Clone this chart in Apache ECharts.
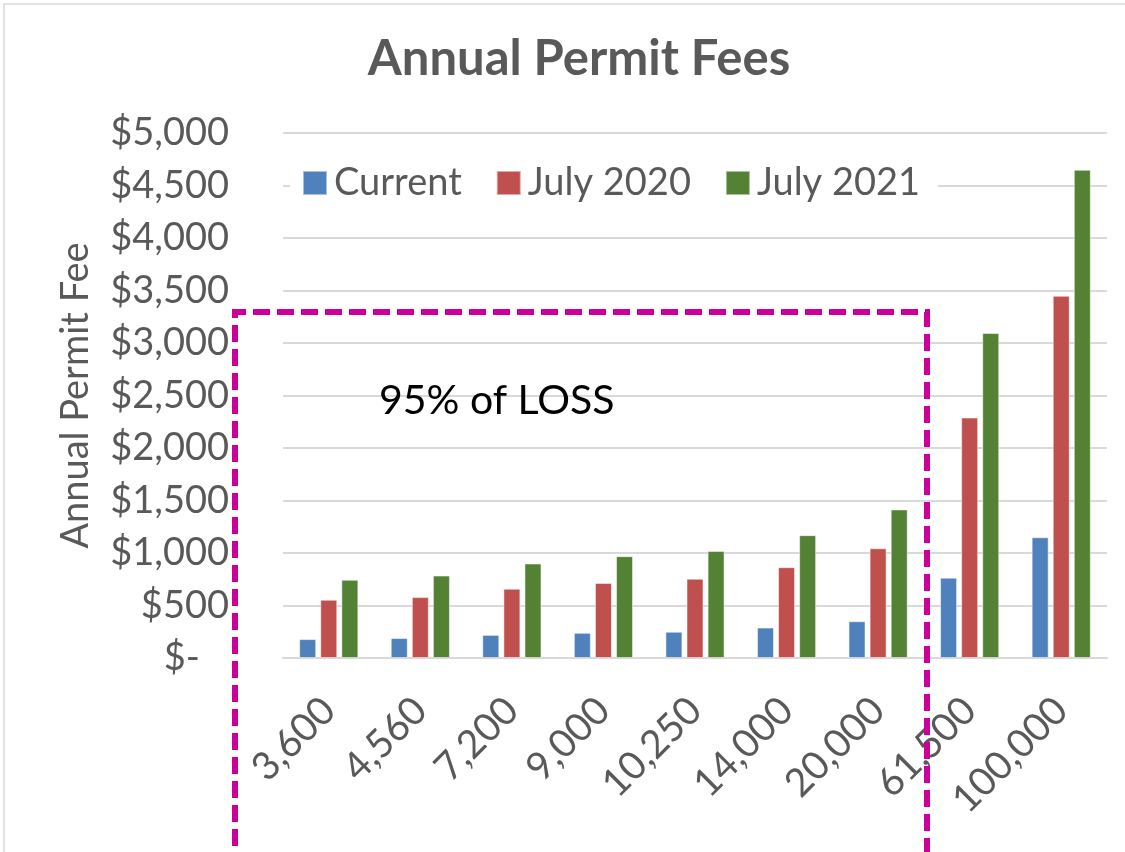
<!DOCTYPE html>
<html>
<head>
<meta charset="utf-8">
<script src="https://cdn.jsdelivr.net/npm/echarts@6/dist/echarts.min.js"></script>
<style>html,body{margin:0;padding:0;background:#fff}#c{width:1125px;height:852px}</style>
</head>
<body>
<div id="c"></div>
<script>
const categories = ['3,600','4,560','7,200','9,000','10,250','14,000','20,000','61,500','100,000'];
const seriesNames = ['Current','July 2020','July 2021'];
const current = [180, 190, 220, 240, 250, 290, 350, 765, 1150];
const july2020 = [555, 580, 660, 715, 755, 865, 1045, 2290, 3450];
const july2021 = [745, 785, 900, 970, 1020, 1170, 1415, 3095, 4650];
const colors = ['#4F81BD','#C0504D','#548235'];
const FONT = 'Lato';
const TXT = '#595959';

const chart = echarts.init(document.getElementById('c'));
const mk = (name, data, color) => ({
  name, type: 'bar', data, barWidth: 17, barGap: '24%',
  itemStyle: { color, borderColor: 'rgba(255,255,255,0.5)', borderWidth: 1 }
});
chart.setOption({
  animation: false,
  backgroundColor: '#fff',
  textStyle: { fontFamily: FONT },
  title: {
    text: 'Annual Permit Fees', left: 574, top: 30, textAlign: 'center',
    textStyle: { fontFamily: FONT, fontWeight: 'bold', fontSize: 49, color: TXT }
  },
  legend: {
    data: seriesNames, left: 290, top: 160, itemWidth: 24, itemHeight: 24, itemGap: 34,
    backgroundColor: '#fff', padding: [4, 18, 4, 12],
    icon: 'rect',
    textStyle: { fontFamily: FONT, fontSize: 38, color: TXT, padding: [0, 0, 0, 2] }
  },
  grid: { left: 283, right: 18, top: 133, bottom: 194 },
  xAxis: {
    type: 'category', data: categories,
    axisLine: { lineStyle: { color: '#d9d9d9', width: 2 } },
    axisTick: { show: false },
    axisLabel: { rotate: 45, margin: 46, fontFamily: FONT, fontSize: 39, color: TXT, interval: 0 }
  },
  yAxis: {
    type: 'value', min: 0, max: 5000, interval: 500,
    name: 'Annual Permit Fee', nameLocation: 'middle', nameGap: 188,
    nameTextStyle: { fontFamily: FONT, fontSize: 38, color: TXT },
    axisLine: { show: false }, axisTick: { show: false },
    splitLine: { lineStyle: { color: '#d9d9d9', width: 2 } },
    axisLabel: {
      margin: 54, fontFamily: FONT, fontSize: 38, color: TXT,
      formatter: v => v === 0 ? '$-   ' : '$' + v.toLocaleString('en-US')
    }
  },
  series: [mk(seriesNames[0], current, colors[0]), mk(seriesNames[1], july2020, colors[1]), mk(seriesNames[2], july2021, colors[2])],
  graphic: [
    { type: 'rect', shape: { x: 4, y: 4, width: 1200, height: 1000 }, style: { fill: 'none', stroke: '#d9d9d9', lineWidth: 1.5 }, z: -1, silent: true },
    { type: 'polyline', shape: { points: [[235, 870], [235, 312], [927, 312], [927, 870]] },
      style: { fill: 'none', stroke: '#CC0099', lineWidth: 6, lineDash: [17, 7] }, z: 100 },
    { type: 'text', left: 379, top: 380, style: { text: '95% of LOSS', fontFamily: FONT, fontSize: 41, fill: '#000' }, z: 100 }
  ]
});
</script>
</body>
</html>
